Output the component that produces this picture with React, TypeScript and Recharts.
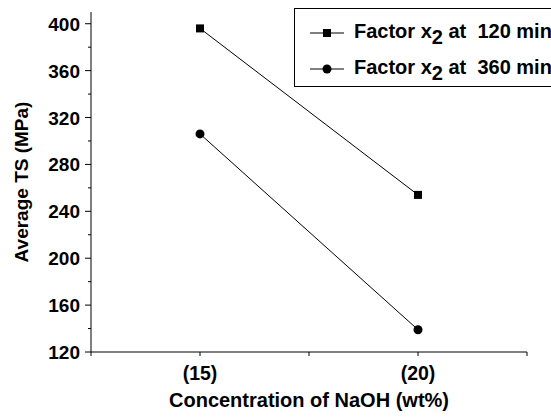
import { LineChart, Line, XAxis, YAxis, Legend, Label } from "recharts";

// NaOH concentration (wt%) and average tensile strength (MPa)
const naohConc = [15, 20];
const ts120min = [396, 254];
const ts360min = [306, 139];

const xTicks = [12.5, 15, 17.5, 20, 22.5];
const xTickLabels: Record<number, string> = { 15: "(15)", 20: "(20)" };
const yTicks = [120, 140, 160, 180, 200, 220, 240, 260, 280, 300, 320, 340, 360, 380, 400];
const yMajor = [120, 160, 200, 240, 280, 320, 360, 400];
const legendTimes = ["120 min", "360 min"];

const FONT = "Arial, 'Liberation Sans', Helvetica, sans-serif";

const data = naohConc.map((c, i) => ({ x: c, t120: ts120min[i], t360: ts360min[i] }));

const SquareDot = (props: any) => {
  const { cx, cy } = props;
  if (cx == null || cy == null) return null;
  return <rect x={cx - 4} y={cy - 4} width={8} height={8} fill="#000" />;
};

const RoundDot = (props: any) => {
  const { cx, cy } = props;
  if (cx == null || cy == null) return null;
  return <circle cx={cx} cy={cy} r={4.5} fill="#000" />;
};

const XTick = (props: any) => {
  const { x, y, payload } = props;
  const label = xTickLabels[payload.value] ?? "";
  return (
    <g>
      <line x1={x} x2={x} y1={y} y2={y + 4} stroke="#000" />
      {label && (
        <text x={x} y={y + 28} textAnchor="middle" fontSize={19.5} fontWeight="bold" fontFamily={FONT} fill="#000">
          {label}
        </text>
      )}
    </g>
  );
};

const YTick = (props: any) => {
  const { x, y, payload } = props;
  const major = yMajor.includes(payload.value);
  return (
    <g>
      <line x1={x - (major ? 6 : 3)} x2={x} y1={y} y2={y} stroke="#000" />
      {major && (
        <text x={x - 11} y={y + 7} textAnchor="end" fontSize={19} fontWeight="bold" fontFamily={FONT} fill="#000">
          {payload.value}
        </text>
      )}
    </g>
  );
};

const LegendBox = () => (
  <div
    style={{
      border: "1px solid #000",
      width: 300,
      minWidth: 300,
      height: 79,
      paddingTop: 6,
      boxSizing: "border-box",
      background: "#fff",
      fontFamily: FONT,
      fontWeight: "bold",
      fontSize: 20,
    }}
  >
    {legendTimes.map((t, i) => (
      <div key={t} style={{ display: "flex", alignItems: "center", height: 36, paddingLeft: 15, whiteSpace: "nowrap" }}>
        <svg width={34} height={12} style={{ flexShrink: 0 }}>
          <line x1={0} x2={34} y1={6} y2={6} stroke="#000" />
          {i === 0 ? <rect x={13} y={2} width={8} height={8} fill="#000" /> : <circle cx={17} cy={6} r={4.5} fill="#000" />}
        </svg>
        <span style={{ marginLeft: 10, whiteSpace: "pre", lineHeight: "20px", position: "relative", top: -2 }}>
          Factor x<span style={{ position: "relative", top: 6 }}>2</span>
          {" at  " + t}
        </span>
      </div>
    ))}
  </div>
);

export default function App() {
  return (
    <div style={{ position: "absolute", left: 0, top: 0, width: 551, height: 419, overflow: "hidden", background: "#fff" }}>
      <LineChart width={551} height={419} data={data} margin={{ top: 12, right: 24, left: 0, bottom: 0 }}>
        <XAxis
          dataKey="x"
          type="number"
          domain={[12.5, 22.5]}
          ticks={xTicks}
          interval={0}
          height={67}
          tickSize={0}
          tickMargin={0}
          tickLine={false}
          tick={<XTick />}
          axisLine={{ stroke: "#000" }}
        >
          <Label
            value="Concentration of NaOH (wt%)"
            position="insideBottom"
            offset={12}
            style={{ fontFamily: FONT, fontSize: 20, fontWeight: "bold", fill: "#000" }}
          />
        </XAxis>
        <YAxis
          type="number"
          domain={[120, 410]}
          ticks={yTicks}
          interval={0}
          width={91}
          tickSize={0}
          tickMargin={0}
          tickLine={false}
          tick={<YTick />}
          axisLine={{ stroke: "#000" }}
        >
          <Label
            content={(p: any) => {
              const vb = p.viewBox;
              const cy = vb.y + vb.height / 2;
              return (
                <text
                  x={28}
                  y={cy}
                  transform={`rotate(-90, 28, ${cy})`}
                  textAnchor="middle"
                  fontFamily={FONT}
                  fontSize={19}
                  fontWeight="bold"
                  fill="#000"
                >
                  Average TS (MPa)
                </text>
              );
            }}
          />
        </YAxis>
        <Legend
          layout="horizontal"
          verticalAlign="middle"
          align="center"
          content={() => <LegendBox />}
          wrapperStyle={{ position: "absolute", top: 8, left: 294, right: "auto", width: 300, height: 79 }}
        />
        <Line dataKey="t120" stroke="#000" strokeWidth={1} dot={<SquareDot />} activeDot={false} isAnimationActive={false} />
        <Line dataKey="t360" stroke="#000" strokeWidth={1} dot={<RoundDot />} activeDot={false} isAnimationActive={false} />
      </LineChart>
    </div>
  );
}
